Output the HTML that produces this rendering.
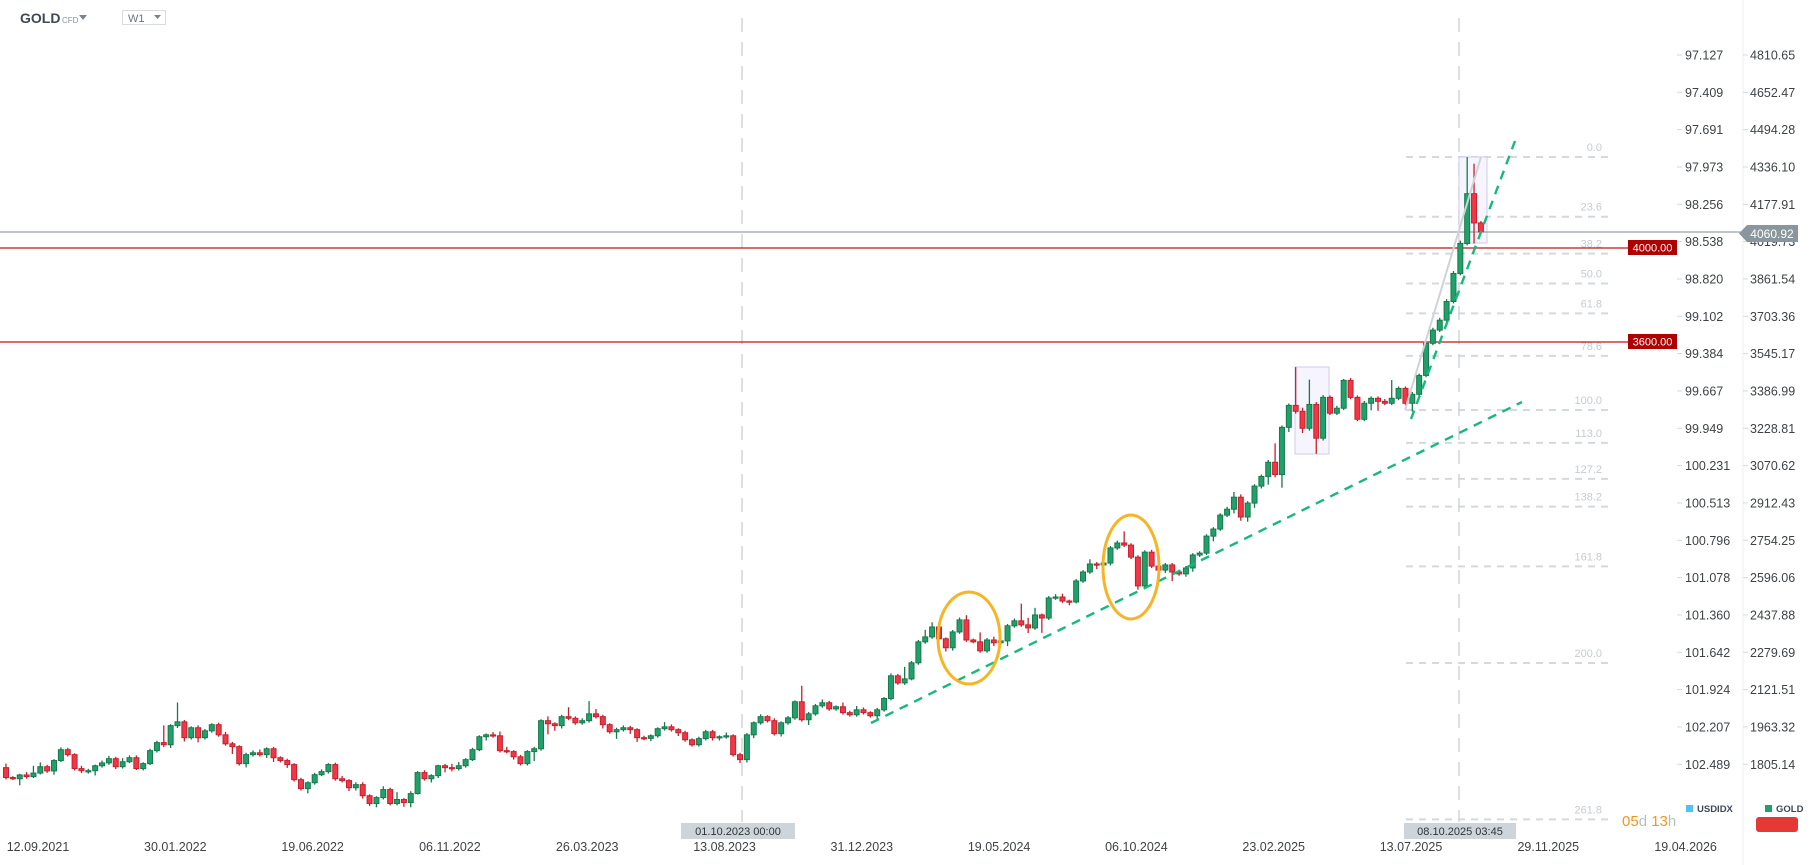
<!DOCTYPE html>
<html><head><meta charset="utf-8"><style>
html,body{margin:0;padding:0;background:#fff;}
svg{display:block;font-family:"Liberation Sans",sans-serif;}
</style></head><body>
<svg id="chart" width="1810" height="865" viewBox="0 0 1810 865" xmlns="http://www.w3.org/2000/svg">
<rect x="0" y="0" width="1810" height="865" fill="#fff"/>
<g>
 <text x="20" y="23" font-size="14" font-weight="bold" fill="#3d4a55">GOLD</text>
 <text x="62" y="23" font-size="8" fill="#8a949c">CFD</text>
 <path d="M79 15 L87 15 L83 20 Z" fill="#7a848c"/>
 <rect x="122.5" y="10.5" width="43" height="14" fill="#fff" stroke="#d9dde0"/>
 <text x="128" y="22" font-size="11" fill="#6b757d">W1</text>
 <path d="M154 15 L161 15 L157.5 19 Z" fill="#7a848c"/>
</g>
<g id="fib"></g>
<g id="overlays">
 <line x1="742" y1="18" x2="742" y2="822" stroke="#d0d6db" stroke-width="1.5" stroke-dasharray="14 10"/>
 <line x1="1459" y1="18" x2="1459" y2="822" stroke="#d0d6db" stroke-width="1.5" stroke-dasharray="14 10"/>
 <rect x="1459" y="157" width="28" height="86" fill="#f6f5fd" stroke="#d2c9e8" stroke-width="1"/>
 <rect x="1295" y="367" width="34" height="87" fill="#f6f5fd" stroke="#d2c9e8" stroke-width="1"/>
 <line x1="0" y1="232" x2="1743" y2="232" stroke="#7d8a92" stroke-width="1"/>
 <line x1="0" y1="248" x2="1628" y2="248" stroke="#c4141a" stroke-width="1.2"/>
 <line x1="0" y1="342" x2="1628" y2="342" stroke="#c4141a" stroke-width="1.2"/>
</g>
<g id="candles"></g>
<g>
 <line x1="1405" y1="410" x2="1481" y2="157" stroke="#cfd3d7" stroke-width="2"/>
 <line x1="871" y1="723" x2="1522" y2="402" stroke="#16b97a" stroke-width="2.4" stroke-dasharray="9 7"/>
 <line x1="1411" y1="419" x2="1515" y2="141" stroke="#16b97a" stroke-width="2.4" stroke-dasharray="9 7"/>
 <ellipse cx="969" cy="638" rx="31" ry="46" fill="none" stroke="#f6b526" stroke-width="3"/>
 <ellipse cx="1131" cy="567" rx="28" ry="52" fill="none" stroke="#f6b526" stroke-width="3"/>
</g>
<g>
 <rect x="1628" y="240" width="49" height="15" fill="#b00000"/>
 <text x="1652.5" y="251.5" font-size="11" fill="#fff" text-anchor="middle">4000.00</text>
 <rect x="1628" y="334" width="49" height="15" fill="#b00000"/>
 <text x="1652.5" y="345.5" font-size="11" fill="#fff" text-anchor="middle">3600.00</text>
</g>
<g id="axes">
 <line x1="1743" y1="0" x2="1743" y2="865" stroke="#eceff1" stroke-width="1"/>
</g>
<g>
 <path d="M1739 233.5 L1747 225 L1798 225 L1798 242 L1747 242 Z" fill="#8a969e"/>
 <text x="1772" y="238" font-size="12" fill="#fff" text-anchor="middle">4060.92</text>
</g>
<g id="xaxis"></g>
<g>
 <rect x="681" y="823" width="114" height="16" fill="#cdd5db"/>
 <text x="738" y="835" font-size="11" fill="#333" text-anchor="middle">01.10.2023 00:00</text>
 <rect x="1404" y="823" width="112" height="16" fill="#cdd5db"/>
 <text x="1460" y="835" font-size="11" fill="#333" text-anchor="middle">08.10.2025 03:45</text>
</g>
<g>
 <text x="1622" y="826" font-size="15"><tspan fill="#f7941d">05</tspan><tspan fill="#b8bec3">d</tspan><tspan fill="#f7941d"> 13</tspan><tspan fill="#b8bec3">h</tspan></text>
 <rect x="1686" y="805" width="7" height="7" fill="#4fc3f7"/>
 <text x="1697" y="812" font-size="9.5" font-weight="bold" fill="#3d4a55">USDIDX</text>
 <rect x="1765" y="805" width="7" height="7" fill="#22a06b"/>
 <text x="1776" y="812" font-size="9.5" font-weight="bold" fill="#3d4a55">GOLD</text>
 <rect x="1756" y="817" width="42" height="15" rx="3" fill="#e53935"/>
</g>
</svg>
<script>
const firstOpen = 1791;
const closes = [1749,1744,1760,1753,1768,1795,1777,1821,1867,1846,
1787,1778,1778,1799,1811,1829,1795,1816,1833,1787,
1808,1863,1897,1888,1969,1985,1918,1960,1918,1947,
1973,1930,1892,1880,1808,1846,1854,1846,1871,1833,
1821,1804,1740,1702,1727,1761,1774,1804,1744,1736,
1706,1719,1672,1639,1664,1698,1639,1656,1643,1681,
1770,1744,1757,1799,1791,1787,1799,1825,1867,1922,
1930,1926,1863,1859,1837,1808,1859,1871,1990,1977,
1969,2007,2000,1981,1990,2019,2007,1973,1943,1952,
1960,1952,1918,1915,1926,1956,1964,1952,1939,1909,
1888,1914,1943,1918,1922,1926,1846,1825,1930,1981,
2007,1990,1935,1981,2002,2070,1994,2019,2053,2066,
2040,2049,2024,2015,2036,2024,2011,2036,2084,2180,
2150,2167,2235,2324,2345,2387,2337,2299,2366,2417,
2332,2324,2286,2332,2320,2328,2392,2413,2396,2383,
2438,2425,2510,2514,2497,2493,2582,2620,2654,2650,
2658,2722,2743,2734,2683,2561,2704,2645,2628,2650,
2620,2612,2637,2692,2700,2772,2802,2861,2886,2937,
2853,2912,2984,3025,3085,3033,3233,3326,3301,3229,
3330,3187,3360,3293,3314,3432,3360,3267,3335,3356,
3343,3335,3356,3398,3335,3373,3453,3589,3645,3687,
3766,3885,4012,4223,4099,4061];
const upperWick = [17,6,5,12,31,18,8,6,10,8, 6,12,8,5,10,12,8,15,10,10, 6,8,8,73,6,82,8,6,10,8,
6,8,12,8,6,8,10,14,6,8, 6,8,6,8,6,8,10,6,8,12, 6,10,10,6,6,14,8,31,6,10,
6,10,6,4,8,16,16,6,8,6, 6,12,18,16,6,8,6,8,6,18, 6,8,40,8,10,54,20,8,6,8,
10,8,6,8,6,6,20,10,6,8, 6,8,8,8,6,14,6,8,8,6, 10,6,10,6,8,6,68,8,8,14,
8,6,18,8,16,10,6,8,6,10, 8,51,8,8,30,20,8,6,8,10, 20,6,40,8,14,6,8,10,73,30,
30,6,8,12,14,6,8,8,20,8, 8,8,10,49,8,8,8,10,50,8, 8,10,8,8,8,8,8,8,10,22,
12,8,8,8,10,80,8,8,162,15, 105,10,10,8,10,6,10,8,10,8, 8,10,77,8,8,10,8,10,10,10,
10,10,12,155,127,8];
const lowerWick = [8,6,28,8,6,6,8,16,6,8, 8,10,12,20,8,8,10,8,6,6, 8,6,8,10,14,10,16,8,20,8,
8,8,8,31,8,16,8,8,14,18, 8,14,8,8,20,8,6,8,8,8, 14,12,12,10,16,8,8,8,18,20,
4,8,16,10,20,12,8,8,6,6, 16,8,8,8,12,8,8,40,8,45, 22,12,8,8,8,8,8,16,8,30,
8,18,18,8,12,8,8,8,14,8, 8,8,8,12,12,8,8,14,12,14, 8,8,8,12,8,8,8,22,8,8,
8,8,8,8,8,8,8,20,8,8, 8,8,6,8,8,8,8,16,12,8, 8,6,8,8,14,8,22,8,8,22,
8,63,8,8,8,14,6,8,8,18, 8,10,8,8,8,16,8,8,8,12, 39,8,12,16,8,8,22,8,8,18,
16,20,20,10,35,12,56,20,10,20, 10,66,10,8,8,8,8,8,8,30, 40,8,8,8,8,35,8,8,8,8,
8,8,8,8,87,8];
const usdTicks = ["97.127","97.409","97.691","97.973","98.256","98.538","98.820","99.102","99.384","99.667","99.949","100.231","100.513","100.796","101.078","101.360","101.642","101.924","102.207","102.489"];
const goldTicks = ["4810.65","4652.47","4494.28","4336.10","4177.91","4019.73","3861.54","3703.36","3545.17","3386.99","3228.81","3070.62","2912.43","2754.25","2596.06","2437.88","2279.69","2121.51","1963.32","1805.14"];
const dateTicks = ["12.09.2021","30.01.2022","19.06.2022","06.11.2022","26.03.2023","13.08.2023","31.12.2023","19.05.2024","06.10.2024","23.02.2025","13.07.2025","29.11.2025","19.04.2026"];
const fibLevels = [0,23.6,38.2,50,61.8,78.6,100,113,127.2,138.2,161.8,200,261.8];

const NS = "http://www.w3.org/2000/svg";
function yPrice(p){ return 55 + (4810.65 - p) * 0.2360; }
function xIdx(i){ return 6 + i * 6.86; }
function fibY(l){ return 157 + (410 - 157) * l / 100; }
function mk(tag, attrs, parent){ const e=document.createElementNS(NS,tag); for(const k in attrs) e.setAttribute(k,attrs[k]); parent.appendChild(e); return e; }

const cg = document.getElementById('candles');
for (let i=0;i<closes.length;i++){
  const o = i===0 ? firstOpen : closes[i-1];
  const c = closes[i];
  const up = c >= o;
  const hi = Math.max(o,c) + upperWick[i];
  const lo = Math.min(o,c) - lowerWick[i];
  const x = xIdx(i);
  const stroke = up ? '#157a4b' : '#c4202e';
  const fill = up ? '#22a06b' : '#f23645';
  const g = mk('g',{},cg);
  
  
  mk('line',{x1:x,x2:x,y1:yPrice(hi),y2:yPrice(lo),stroke:stroke,'stroke-width':1.3},g);
  const top = yPrice(Math.max(o,c)), bot = yPrice(Math.min(o,c));
  mk('rect',{x:x-2.5,y:top,width:5,height:Math.max(1.2,bot-top),fill:fill,stroke:stroke,'stroke-width':1},g);
}

const fg = document.getElementById('fib');
fibLevels.forEach(l=>{
  const y = fibY(l);
  const ln = mk('line',{x1:1406,x2:1611,y1:y,y2:y,stroke:'#d3d9de','stroke-width':2,'stroke-dasharray':'7 6'},fg);
  
  
  const t = mk('text',{x:1602,y:y-6,'font-size':11,fill:'#c5ccd2','text-anchor':'end'},fg);
  
  
  t.textContent = l.toFixed(1);
});

const ag = document.getElementById('axes');
usdTicks.forEach((s,k)=>{
  const y = 55 + k*37.33;
  mk('line',{x1:1677,x2:1682,y1:y,y2:y,stroke:'#d5d9dc'},ag);
  const t = mk('text',{x:1685,y:y+4.5,'font-size':12.5,fill:'#3d4347'},ag);
  
  
  t.textContent = s;
});
goldTicks.forEach((s,k)=>{
  const y = 55 + k*37.33;
  mk('line',{x1:1743,x2:1748,y1:y,y2:y,stroke:'#d5d9dc'},ag);
  const t = mk('text',{x:1750,y:y+4.5,'font-size':12.5,fill:'#3d4347'},ag);
  
  
  t.textContent = s;
});

const xg = document.getElementById('xaxis');
dateTicks.forEach((s,k)=>{
  const x = 38 + k*137.3;
  const t = mk('text',{x:x,y:851,'font-size':12.5,fill:'#3d4347','text-anchor':'middle'},xg);
  
  
  t.textContent = s;
});
</script>
</body></html>
